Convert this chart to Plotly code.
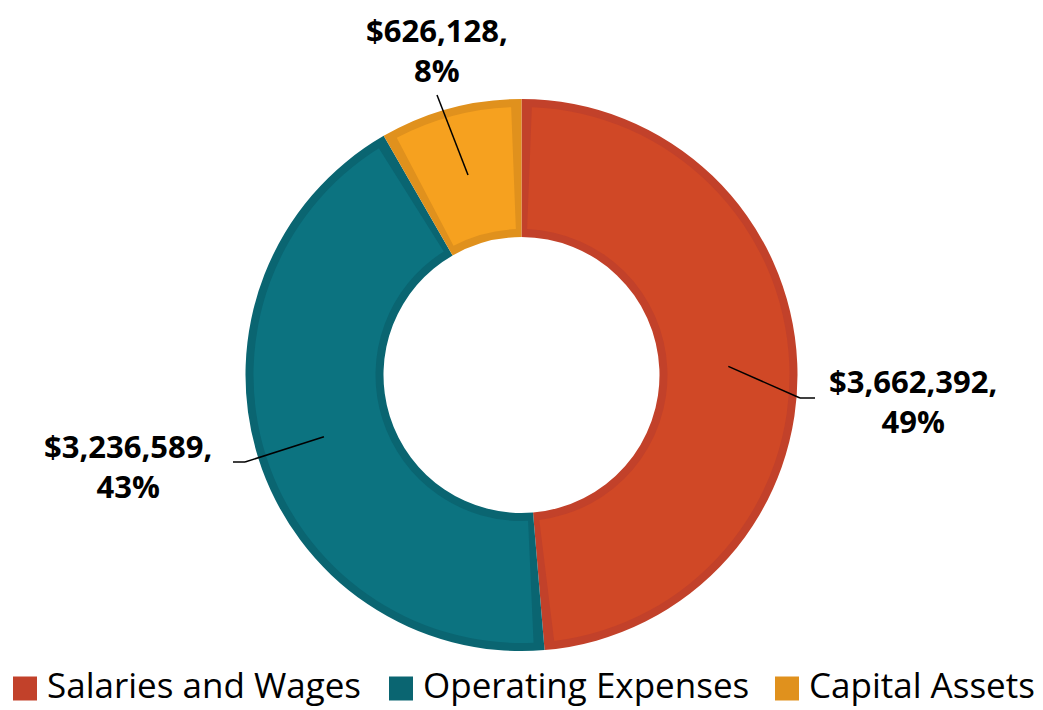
import math
import plotly.graph_objects as go

# ---- data ----
categories = ["Salaries and Wages", "Operating Expenses", "Capital Assets"]
amounts = [3662392, 3236589, 626128]

# ---- style ----
fill_colors = ["#D04826", "#0C7380", "#F6A11F"]
edge_colors = ["#C2412A", "#0A6571", "#E0911D"]

W, H = 1043, 710
M_T, M_B = 99, 59
plot_h = H - M_T - M_B
R = plot_h / 2.0            # outer radius in px
CX, CY = W / 2.0, M_T + R   # centre in px
HOLE = 0.5
BAND = 8                    # inner darker border width px

def px_to_paper(x, y):
    return x / W, (H - M_B - y) / plot_h

total = sum(amounts)

fig = go.Figure()

# outer (darker) ring
fig.add_trace(go.Pie(
    labels=categories, values=amounts, hole=HOLE, sort=False,
    direction="clockwise", rotation=0,
    marker=dict(colors=edge_colors, line=dict(width=0)),
    textinfo="none", hoverinfo="label+value+percent", showlegend=False,
    domain=dict(x=[0, 1], y=[0, 1]),
))

# inner lighter fill, inset from every edge
r_mid = R * (1 + HOLE) / 2
gap = (BAND / r_mid) / (2 * math.pi) * total
vals_b, cols_b, labs_b = [], [], []
for i, (c, v) in enumerate(zip(categories, amounts)):
    vals_b += [gap, v - 2 * gap, gap]
    cols_b += ["rgba(0,0,0,0)", fill_colors[i], "rgba(0,0,0,0)"]
    labs_b += [f"g{i}a", c + " ", f"g{i}b"]
R2 = R - BAND
x0, y0 = px_to_paper(CX - R2, CY + R2)
x1, y1 = px_to_paper(CX + R2, CY - R2)
fig.add_trace(go.Pie(
    labels=labs_b, values=vals_b, hole=(R * HOLE + BAND) / R2, sort=False,
    direction="clockwise", rotation=0,
    marker=dict(colors=cols_b, line=dict(width=0)),
    textinfo="none", hoverinfo="skip", showlegend=False,
    domain=dict(x=[x0, x1], y=[y0, y1]),
))

# ---- labels with leader lines ----
label_pos = [(913, 401), (128, 466), (437, 50)]      # text centre px
elbows = [[(800, 398), (815, 398)], [(245, 462), (233, 462)], [(437, 95)]]
shapes, annotations = [], []
cum = 0
for i, v in enumerate(amounts):
    mid = (cum + v / 2) / total * 2 * math.pi
    cum += v
    sx = CX + r_mid * math.sin(mid)
    sy = CY - r_mid * math.cos(mid)
    pts = [(sx, sy)] + elbows[i]
    for (ax_, ay_), (bx_, by_) in zip(pts[:-1], pts[1:]):
        a = px_to_paper(ax_, ay_)
        b = px_to_paper(bx_, by_)
        shapes.append(dict(type="line", xref="paper", yref="paper",
                           x0=a[0], y0=a[1], x1=b[0], y1=b[1],
                           line=dict(color="black", width=1.5)))
    tx, ty = px_to_paper(*label_pos[i])
    pct = round(100 * v / total)
    annotations.append(dict(
        x=tx, y=ty, xref="paper", yref="paper", showarrow=False,
        text=f"<b>${v:,},<br>{pct}%</b>", align="center",
        font=dict(family="Open Sans", size=31, color="black"),
        xanchor="center", yanchor="middle",
    ))

# ---- legend (swatch + text) ----
legend_x = [13, 389, 775]   # swatch left edges px
LEG_Y = 688.5
SW = 24
for i, c in enumerate(categories):
    a = px_to_paper(legend_x[i], LEG_Y - SW / 2)
    b = px_to_paper(legend_x[i] + SW, LEG_Y + SW / 2)
    shapes.append(dict(type="rect", xref="paper", yref="paper",
                       x0=a[0], y0=b[1], x1=b[0], y1=a[1],
                       fillcolor=edge_colors[i], line=dict(width=0)))
    t = px_to_paper(legend_x[i] + SW + 9, H - 1)
    annotations.append(dict(
        x=t[0], y=t[1], xref="paper", yref="paper", showarrow=False,
        text=c, xanchor="left", yanchor="bottom", borderpad=0,
        font=dict(family="Open Sans", size=35, color="black"),
    ))

fig.update_layout(
    width=W, height=H,
    margin=dict(l=0, r=0, t=M_T, b=M_B),
    paper_bgcolor="white", plot_bgcolor="white",
    shapes=shapes, annotations=annotations,
    showlegend=False,
    font=dict(family="Open Sans"),
)

fig.write_html("out.html",
               config={"displayModeBar": False},
               post_script="document.body.style.margin='0px';"
                           "document.body.style.overflow='hidden';")
